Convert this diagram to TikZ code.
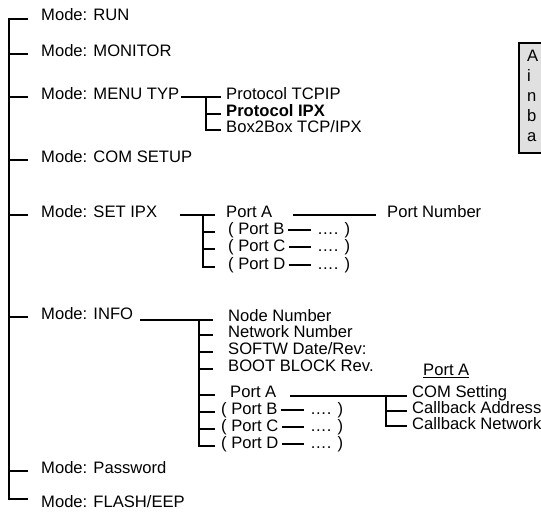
\documentclass[tikz,border=0pt]{standalone}
\usepackage{fontspec}
\setmainfont{Liberation Sans}
\usetikzlibrary{calc}
\begin{document}
\begin{tikzpicture}[x=1pt,y=-1pt,
  lbl/.style={anchor=west,inner sep=0pt,text height=12pt,text depth=3pt,font=\fontsize{16.6}{18}\selectfont},
  tree/.style={line width=2pt,line join=miter,line cap=butt},
  sub/.style={line width=1.7pt,line join=miter,line cap=butt},
  note/.style={line width=1.8pt,draw=black,fill=black!12}]
\useasboundingbox (0,0) rectangle (541,512);
\begin{scope}
\clip (0,0) rectangle (541,512);
% main column
\node[lbl] (r1) at (41,16) {Mode: RUN};
\node[lbl] (r2) at (41,52) {Mode: MONITOR};
\node[lbl] (r3) at (41,95) {Mode: MENU TYP};
\node[lbl] (r4) at (41,158) {Mode: COM SETUP};
\node[lbl] (r5) at (41,213) {Mode: SET IPX};
\node[lbl] (r6) at (41,315) {Mode: INFO};
\node[lbl] (r7) at (41,469) {Mode: Password};
\node[lbl] (r8) at (41,503) {Mode: FLASH/EEP};
\draw[tree] ($(r1.west)+(-13,3)$) -| ($(r8.west)+(-32,-4)$) -- ($(r8.west)+(-13,-4)$);
\foreach \n in {r2,r3,r4,r5,r6,r7}
  \draw[tree] ($(\n.west)+(-32,2)$) -- ($(\n.west)+(-13,2)$);
% MENU TYP
\node[lbl] (m1) at (226,95) {Protocol TCPIP};
\node[lbl] (m2) at (226,112) {\bfseries Protocol IPX};
\node[lbl] (m3) at (226,128) {Box2Box TCP/IPX};
\draw[sub] ($(r3.east)+(2,2)$) -- ($(m1.west)+(-5,2)$);
\draw[sub] ($(m1.west)+(-20,2)$) |- ($(m3.west)+(-5,2)$);
\draw[sub] ($(m2.west)+(-20,2)$) -- ($(m2.west)+(-5,2)$);
% SET IPX
\node[lbl] (s1) at (226,213) {Port A};
\node[lbl] (sn) at (387,213) {Port Number};
\node[lbl] (s2) at (228,230) {( Port B};
\node[lbl] (s3) at (228,247) {( Port C};
\node[lbl] (s4) at (228,265) {( Port D};
\node[lbl] (s2d) at (317,230) {…. )};
\node[lbl] (s3d) at (317,247) {…. )};
\node[lbl] (s4d) at (317,265) {…. )};
\coordinate (sv) at (203,0);
\draw[sub] ($(r5.east)+(23,2)$) -- ($(s1.west)+(-11,2)$);
\draw[sub] ($(sv|-s1.west)+(0,2)$) |- ($(s4.west)+(-13,2)$);
\foreach \n in {s2,s3}
  \draw[sub] ($(sv|-\n.west)+(0,2)$) -- ($(\n.west)+(-13,2)$);
\draw[sub] ($(s1.east)+(20,2)$) -- ($(sn.west)+(-11,2)$);
\foreach \n in {s2,s3,s4}
  \draw[sub] ($(\n.east)+(3,0)$) -- ($(\n d.west)+(-6,0)$);
% INFO
\node[lbl] (i1) at (228,317) {Node Number};
\node[lbl] (i2) at (228,333) {Network Number};
\node[lbl] (i3) at (228,350) {SOFTW Date/Rev:};
\node[lbl] (i4) at (228,367) {BOOT BLOCK Rev.};
\node[lbl] (i5) at (230,393) {Port A};
\node[lbl] (i6) at (221,410) {( Port B};
\node[lbl] (i7) at (221,427) {( Port C};
\node[lbl] (i8) at (221,444) {( Port D};
\node[lbl] (i6d) at (310,410) {…. )};
\node[lbl] (i7d) at (310,427) {…. )};
\node[lbl] (i8d) at (310,444) {…. )};
\coordinate (iv) at (199,0);
\draw[sub] ($(r6.east|-i1.west)+(7,3)$) -- ($(i1.west)+(-15,3)$);
\draw[sub] ($(iv|-i1.west)+(0,3)$) |- ($(i8.west)+(-6,2)$);
\foreach \n in {i2,i3,i4,i5}
  \draw[sub] ($(iv|-\n.west)+(0,2)$) -- ($(\n.west)+(-15,2)$);
\foreach \n in {i6,i7}
  \draw[sub] ($(iv|-\n.west)+(0,2)$) -- ($(\n.west)+(-6,2)$);
\foreach \n in {i6,i7,i8}
  \draw[sub] ($(\n.east)+(3,0)$) -- ($(\n d.west)+(-6,0)$);
% Port A detail
\node[lbl] (pa) at (423,371) {\underline{Port A}};
\node[lbl] (c1) at (412,393) {COM Setting};
\node[lbl] (c2) at (412,409) {Callback Address};
\node[lbl] (c3) at (412,425) {Callback Network};
\coordinate (cv) at (386,0);
\draw[sub] ($(i5.east)+(13,3)$) -- ($(c1.west)+(-5,3)$);
\draw[sub] ($(cv|-c1.west)+(0,3)$) |- ($(c3.west)+(-5,1)$);
\draw[sub] ($(cv|-c2.west)+(0,2)$) -- ($(c2.west)+(-5,2)$);
% note box
\draw[note] (519,43) rectangle (570,153);
\node[lbl] (b1) at (527,57) {A};
\node[lbl] (b2) at (527,77) {i};
\node[lbl] (b3) at (527,97) {n};
\node[lbl] (b4) at (527,117) {b};
\node[lbl] (b5) at (527,137) {a};
\end{scope}
\end{tikzpicture}
\end{document}
